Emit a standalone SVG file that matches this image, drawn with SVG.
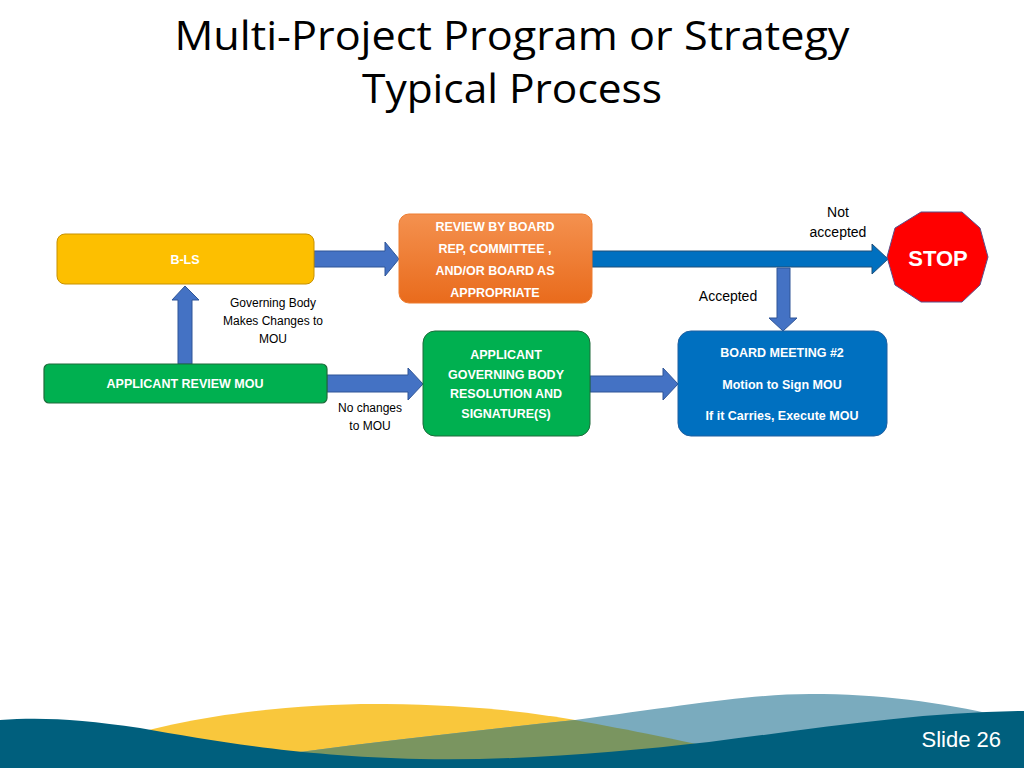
<svg xmlns="http://www.w3.org/2000/svg" width="1024" height="768" viewBox="0 0 1024 768">
<style>
.title{font-family:"Open Sans","Liberation Sans",Arial,sans-serif;font-size:40px;fill:#000;text-anchor:middle}
.bt{font-family:"Liberation Sans",Arial,sans-serif;font-size:12.5px;font-weight:bold;fill:#fff;text-anchor:middle}
.lbl{font-family:"Liberation Sans",Arial,sans-serif;font-size:12px;fill:#000;text-anchor:middle}
.lbl2{font-family:"Liberation Sans",Arial,sans-serif;font-size:14px;fill:#000;text-anchor:middle}
.arr{fill:#4472c4;stroke:#2f5597;stroke-width:1}
.arr2{fill:#0070c0;stroke:#1f4e79;stroke-width:1}
</style>
<defs>
<linearGradient id="og" x1="0" y1="0" x2="0" y2="1">
<stop offset="0" stop-color="#f4914f"/>
<stop offset="1" stop-color="#e96b1c"/>
</linearGradient>
<clipPath id="yc"><path d="M100,745 C180,715 300,703 385,704 C470,705 530,712 575,720 C630,730 680,740 760,758 L760,768 L100,768Z"/></clipPath>
</defs>
<rect width="1024" height="768" fill="#fff"/>

<!-- background waves -->
<g id="waves">
<path d="M100,745 C180,715 300,703 385,704 C470,705 530,712 575,720 C630,730 680,740 760,758 L760,768 L100,768Z" fill="#f9c73c"/>
<path d="M260,768 L300,752 C390,740 480,730 575,720 C680,706 750,694 810,694 C880,694 940,702 1000,716 L1024,722 L1024,768Z" fill="#7aabbe"/>
<path d="M260,768 L300,752 C390,740 480,730 575,720 C680,706 750,694 810,694 C880,694 940,702 1000,716 L1024,722 L1024,768Z" fill="#7a9560" clip-path="url(#yc)"/>
<path d="M0,720 C40,717 80,719 140,728 C220,742 300,756 420,759 C520,761 620,752 709,742 C820,728 920,712 1024,711 L1024,768 L0,768Z" fill="#005f7d"/>
<text x="1001" y="747" font-family="Liberation Sans Narrow,Liberation Sans,Arial,sans-serif" font-size="22" fill="#fff" text-anchor="end">Slide  26</text>
</g>

<g id="title">
<text class="title" x="512" y="50" textLength="675" lengthAdjust="spacingAndGlyphs">Multi-Project Program or Strategy</text>
<text class="title" x="512" y="103" textLength="300" lengthAdjust="spacingAndGlyphs">Typical Process</text>
</g>

<g id="connectors">
<!-- B-LS to Review -->
<path class="arr" d="M314,251 L385,251 L385,242 L399,259 L385,276 L385,267 L314,267Z"/>
<!-- Review to STOP -->
<path class="arr2" d="M592,251 L872,251 L872,244 L888,259 L872,274 L872,267 L592,267Z"/>
<!-- Accepted down -->
<path class="arr" d="M777,268 L790,268 L790,318 L797,318 L783,331 L769,318 L777,318Z"/>
<!-- Applicant review up to B-LS -->
<path class="arr" d="M178,364 L178,300 L172,300 L185,286 L199,300 L192,300 L192,364Z"/>
<!-- Applicant review to governing body -->
<path class="arr" d="M327,375 L408,375 L408,368 L423,384 L408,400 L408,392 L327,392Z"/>
<!-- governing body to board meeting -->
<path class="arr" d="M590,376 L663,376 L663,368 L678,384 L663,400 L663,392 L590,392Z"/>
<text class="lbl" x="273" y="307">Governing Body</text>
<text class="lbl" x="273" y="325">Makes Changes to</text>
<text class="lbl" x="273" y="343">MOU</text>
<text class="lbl" x="370" y="412">No changes</text>
<text class="lbl" x="370" y="430">to MOU</text>
<text class="lbl2" x="838" y="217">Not</text>
<text class="lbl2" x="838" y="237">accepted</text>
<text class="lbl2" x="728" y="301">Accepted</text>
</g>

<g id="bls">
<rect x="57" y="234" width="257" height="50" rx="8" fill="#fdbf00" stroke="#c79100" stroke-width="1"/>
<text class="bt" x="185" y="264">B-LS</text>
</g>

<g id="review">
<rect x="399" y="214" width="193" height="89" rx="10" fill="url(#og)" stroke="#ed7d31" stroke-width="1"/>
<text class="bt" x="495" y="231">REVIEW BY BOARD</text>
<text class="bt" x="495" y="253">REP, COMMITTEE ,</text>
<text class="bt" x="495" y="275">AND/OR BOARD AS</text>
<text class="bt" x="495" y="297">APPROPRIATE</text>
</g>

<g id="stop">
<polygon points="921,212 962,212 980,228 988,257 980,285 962,302 921,302 895,285 887,257 895,228" fill="#ff0000" stroke="#5b4f8a" stroke-width="1"/>
<text x="938" y="266" font-family="Liberation Sans,Arial,sans-serif" font-size="22" font-weight="bold" fill="#fff" text-anchor="middle">STOP</text>
</g>

<g id="applicant-review">
<rect x="44" y="364" width="283" height="39" rx="5" fill="#00b050" stroke="#1e6b3a" stroke-width="1.2"/>
<text class="bt" x="185" y="388">APPLICANT REVIEW MOU</text>
</g>

<g id="governing">
<rect x="423" y="331" width="167" height="105" rx="12" fill="#00b050" stroke="#1e6b3a" stroke-width="1"/>
<text class="bt" x="506" y="359">APPLICANT</text>
<text class="bt" x="506" y="379">GOVERNING BODY</text>
<text class="bt" x="506" y="398">RESOLUTION AND</text>
<text class="bt" x="506" y="418">SIGNATURE(S)</text>
</g>

<g id="board">
<rect x="678" y="331" width="209" height="105" rx="13" fill="#0070c0" stroke="#1f5fa0" stroke-width="1"/>
<text class="bt" x="782" y="357">BOARD MEETING #2</text>
<text class="bt" x="782" y="389">Motion to Sign MOU</text>
<text class="bt" x="782" y="420">If it Carries, Execute MOU</text>
</g>
</svg>
